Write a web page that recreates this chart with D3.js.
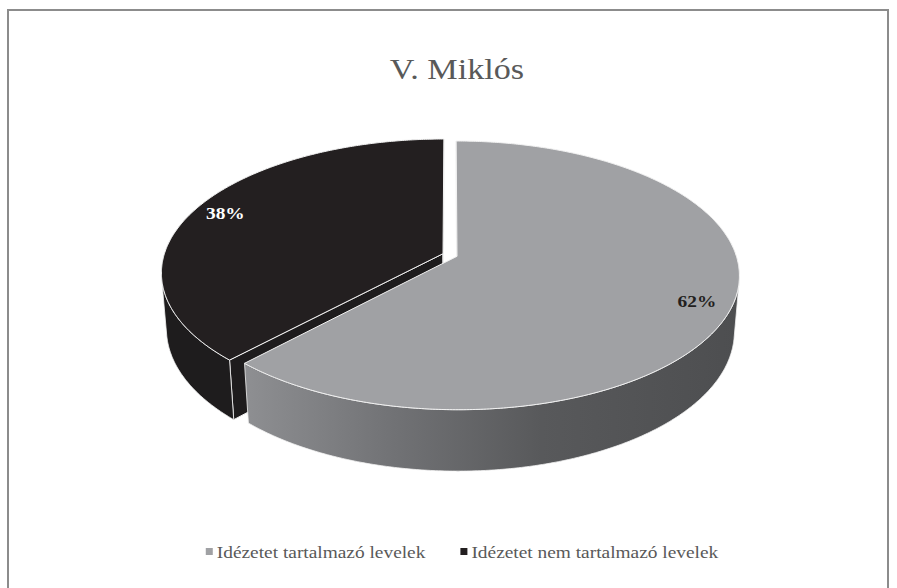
<!DOCTYPE html>
<html>
<head>
<meta charset="utf-8">
<script src="https://cdn.jsdelivr.net/npm/d3@7"></script>
<style>
  body { margin: 0; background: #fff; }
</style>
</head>
<body>
<div id="chart"></div>
<script>
// chart data
const title = 'V. Miklós';
const categories = ['Idézetet tartalmazó levelek', 'Idézetet nem tartalmazó levelek'];
const values = [62, 38];
const sliceColors = ['#a0a1a4', '#231f20'];
const labelColors = ['#231f20', '#ffffff'];

const serif = "'Liberation Serif', 'Times New Roman', Times, serif";
// the source picture is a little wider than tall, so text is stretched to match
const stretch = 1.14;

function drawPie3d() {
  const w = 897;
  const h = 588;

  const svg = d3.select('#chart').append('svg')
    .attr('width', w).attr('height', h)
    .attr('font-family', serif);

  // frame
  svg.append('rect')
    .attr('x', 8).attr('y', 10).attr('width', 880).attr('height', 620)
    .attr('fill', 'none').attr('stroke', '#8c8c8c').attr('stroke-width', 2);

  svg.append('text')
    .attr('transform', `translate(457,79) scale(${stretch},1)`)
    .attr('text-anchor', 'middle')
    .attr('font-size', 30)
    .attr('fill', '#595959')
    .text(title);

  // simple perspective camera for the tilted disc (units of radius)
  const cx = 450, cy = 255;
  const S = 279, sinA = 0.4705, cosA = 0.8824, q = 0.1605;
  const thick = 0.229;
  const explode = 0.027;
  const cam = [0, -cosA / q, sinA / q];

  function proj(x, d, hh) {
    const z = 1 + q * (d * cosA - hh * sinA);
    return [cx + S * x / z, cy - S * (d * sinA + hh * cosA) / z];
  }

  const pie = d3.pie().sort(null).startAngle(0).endAngle(2 * Math.PI);
  const arcs = pie(values).map((a, i) => {
    const mid = (a.startAngle + a.endAngle) / 2;
    return { ...a, i, mid, ox: explode * Math.sin(mid), od: explode * Math.cos(mid) };
  });

  const defs = svg.append('defs');
  const grad = defs.append('linearGradient')
    .attr('id', 'wall0').attr('gradientUnits', 'userSpaceOnUse')
    .attr('x1', 245).attr('x2', 740).attr('y1', 0).attr('y2', 0);
  [[0, '#8e8f92'], [0.3, '#717275'], [0.6, '#58595b'], [1, '#4d4e50']].forEach(([o, c]) => {
    grad.append('stop').attr('offset', o).attr('stop-color', c);
  });
  const wallFill = ['url(#wall0)', '#1e1c1d'];

  const line = d3.line();
  const g = svg.append('g');

  function rim(a, t, hh) {
    return proj(a.ox + Math.sin(t), a.od + Math.cos(t), hh);
  }

  function wallVisible(a, t) {
    const px = a.ox + Math.sin(t), pd = a.od + Math.cos(t);
    return Math.sin(t) * (cam[0] - px) + Math.cos(t) * (cam[1] - pd) > 0;
  }

  function faceVisible(a, t, sign) {
    // outward normal of a radial cut face
    const nx = sign * Math.cos(t), nd = -sign * Math.sin(t);
    return nx * (cam[0] - a.ox) + nd * (cam[1] - a.od) > 0;
  }

  // far slices first
  const order = arcs.slice().sort((a, b) => b.od - a.od);

  order.forEach((a) => {
    const step = Math.PI / 360;
    const ts = d3.range(a.startAngle, a.endAngle, step).concat([a.endAngle]);

    // radial cut faces
    [[a.startAngle, -1], [a.endAngle, 1]].forEach(([t, sign]) => {
      if (!faceVisible(a, t, sign)) return;
      const pts = [
        proj(a.ox, a.od, 0), rim(a, t, 0), rim(a, t, -thick), proj(a.ox, a.od, -thick),
      ];
      g.append('path')
        .attr('d', line(pts) + 'Z')
        .attr('fill', wallFill[a.i])
        .attr('stroke', '#f2f2f2').attr('stroke-width', 1).attr('stroke-linejoin', 'round');
    });

    // outer wall, split into visible runs
    let run = [];
    const runs = [];
    ts.forEach((t) => {
      if (wallVisible(a, t)) run.push(t);
      else if (run.length) { runs.push(run); run = []; }
    });
    if (run.length) runs.push(run);
    runs.forEach((r) => {
      const top = r.map((t) => rim(a, t, 0));
      const bottom = r.slice().reverse().map((t) => rim(a, t, -thick));
      g.append('path')
        .attr('d', line(top.concat(bottom)) + 'Z')
        .attr('fill', wallFill[a.i])
        .attr('stroke', '#f2f2f2').attr('stroke-width', 0.8).attr('stroke-linejoin', 'round');
    });

    // top surface
    const topPts = [proj(a.ox, a.od, 0)].concat(ts.map((t) => rim(a, t, 0)));
    g.append('path')
      .attr('d', line(topPts) + 'Z')
      .attr('fill', sliceColors[a.i])
      .attr('stroke', '#f2f2f2').attr('stroke-width', 1).attr('stroke-linejoin', 'round');
  });

  // percentage labels
  const total = d3.sum(values);
  const labelR = 0.88;
  arcs.forEach((a) => {
    const p = proj(a.ox + labelR * Math.sin(a.mid), a.od + labelR * Math.cos(a.mid), 0);
    svg.append('text')
      .attr('transform', `translate(${p[0]},${p[1]}) scale(${stretch},1)`)
      .attr('dy', '0.35em')
      .attr('text-anchor', 'middle')
      .attr('font-size', 17)
      .attr('font-weight', 'bold')
      .attr('fill', labelColors[a.i])
      .text(Math.round(a.value / total * 100) + '%');
  });

  // legend
  const legend = svg.append('g');
  let x = 0;
  categories.forEach((c, i) => {
    const item = legend.append('g').attr('transform', `translate(${x},0)`);
    item.append('rect')
      .attr('x', 0).attr('y', -10).attr('width', 7).attr('height', 7)
      .attr('fill', sliceColors[i]);
    const t = item.append('text')
      .attr('transform', `translate(11,0) scale(${stretch},1)`)
      .attr('font-size', 17)
      .attr('fill', '#595959')
      .text(c);
    x += 11 + t.node().getComputedTextLength() * stretch + 35;
  });
  const lw = x - 35;
  legend.attr('transform', `translate(${462 - lw / 2},558)`);
}

window.onload = function () {
  drawPie3d();
};
</script>
</body>
</html>
